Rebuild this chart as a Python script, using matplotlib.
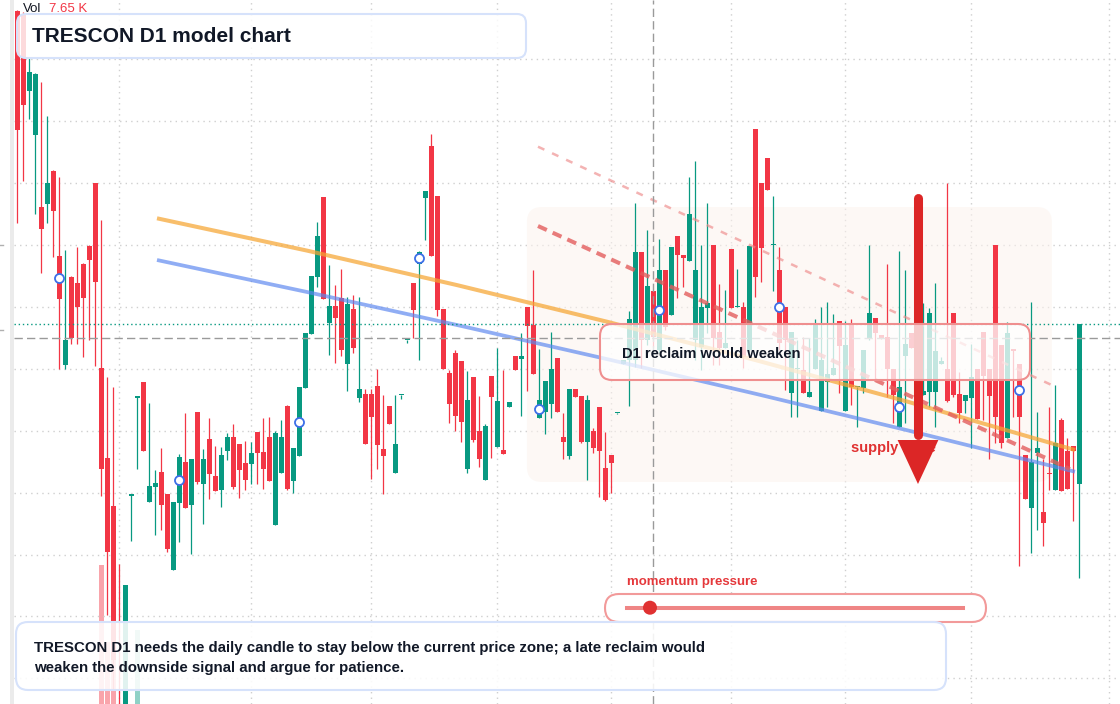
import numpy as np
import matplotlib
matplotlib.use('Agg')
import matplotlib.pyplot as plt
from matplotlib.patches import FancyBboxPatch, Polygon, Circle, Rectangle
from matplotlib.transforms import Affine2D
from matplotlib.lines import Line2D

W, H = 1120, 704
plt.rcParams['font.family'] = ['Liberation Sans', 'DejaVu Sans']

UP = '#089981'
DOWN = '#f23645'

# daily OHLC
opens = [
    68.90, 68.60, 60.93, 56.50, 49.30, 49.65, 52.90, 44.40, 33.54, 42.30,
    41.70, 43.60, 45.40, 51.70, 33.20, 24.20, 19.40, -1.20, -2.00, 20.45,
    30.25, 31.80, 19.83, 21.33, 22.80, 20.60, 13.00, 19.73, 23.80, 19.53,
    28.80, 21.63, 26.10, 22.40, 21.03, 24.93, 26.30, 25.60, 23.70, 23.63,
    26.80, 24.80, 26.30, 17.53, 22.73, 29.40, 21.93, 24.40, 31.23, 36.63,
    42.33, 50.30, 37.73, 39.40, 40.20, 33.63, 39.10, 30.23, 30.60, 30.60,
    31.40, 25.10, 29.40, 22.73, 30.47, 36.02, 41.70, 43.60, 50.23, 55.40,
    50.40, 39.10, 32.70, 34.70, 33.90, 23.13, 32.30, 26.90, 22.03, 32.40,
    25.33, 25.00, 29.33, 34.40, 34.13, 39.30, 37.50, 28.17, 28.83, 29.63,
    34.20, 26.33, 24.43, 31.10, 30.40, 25.83, 26.93, 29.30, 23.23, 24.53,
    28.70, 33.60, 34.00, 34.00, 44.80, 36.00, 40.90, 35.00, 43.00, 38.53,
    46.40, 44.50, 43.93, 36.00, 35.33, 39.23, 45.50, 36.80, 35.23, 45.10,
    39.27, 39.30, 35.00, 57.10, 51.70, 54.20, 45.47, 43.00, 39.30, 30.73,
    33.10, 33.00, 30.33, 33.07, 28.93, 31.83, 32.50, 37.90, 28.93, 37.67,
    31.30, 31.23, 36.13, 38.20, 36.50, 36.27, 33.07, 27.27, 34.43, 36.67,
    35.50, 30.50, 30.77, 30.83, 33.57, 33.07, 38.67, 30.60, 29.93, 30.23,
    33.10, 36.80, 33.10, 45.50, 35.50, 26.23, 35.07, 33.60, 24.47, 19.23,
    24.73, 18.80, 22.67, 21.00, 28.00, 24.93, 25.40, 21.57]
highs = [
    69.00, 68.80, 64.30, 62.70, 61.80, 58.40, 53.00, 52.30, 45.00, 42.40,
    45.35, 43.70, 45.50, 51.70, 48.00, 32.30, 31.30, 13.60, 11.54, 20.55,
    30.30, 31.80, 29.70, 23.00, 25.20, 20.60, 19.80, 24.60, 28.70, 24.10,
    28.80, 25.10, 28.20, 25.40, 25.30, 26.70, 27.60, 25.60, 25.90, 25.80,
    26.80, 28.20, 28.30, 26.90, 28.00, 29.50, 25.20, 31.30, 36.70, 42.40,
    47.80, 50.30, 43.50, 41.47, 43.10, 40.33, 40.50, 40.30, 31.10, 31.10,
    33.10, 30.50, 29.40, 30.50, 30.50, 36.03, 41.70, 44.90, 50.90, 56.60,
    50.40, 39.10, 33.03, 35.00, 33.90, 32.93, 32.30, 30.40, 27.60, 32.40,
    35.20, 33.03, 29.80, 34.40, 36.70, 39.30, 43.00, 35.10, 31.90, 36.80,
    34.20, 28.73, 31.10, 31.10, 30.40, 30.50, 27.23, 29.30, 26.83, 24.53,
    28.75, 34.00, 38.90, 49.70, 44.80, 47.00, 40.90, 46.10, 43.00, 45.30,
    46.40, 44.50, 52.33, 53.90, 45.50, 49.70, 45.50, 41.60, 41.00, 45.10,
    43.13, 39.80, 45.40, 57.10, 51.70, 54.20, 50.40, 45.30, 39.30, 36.80,
    36.00, 36.33, 36.20, 38.10, 39.33, 39.83, 38.60, 37.90, 37.90, 38.07,
    31.33, 35.00, 45.50, 38.20, 36.50, 43.60, 33.07, 44.90, 43.00, 36.67,
    37.00, 39.67, 39.17, 41.67, 34.33, 51.67, 38.67, 32.83, 30.50, 35.60,
    33.10, 36.80, 33.10, 45.50, 35.50, 37.80, 35.07, 33.60, 24.47, 39.80,
    28.80, 24.13, 29.27, 31.50, 28.23, 26.23, 25.40, 37.57]
lows = [
    47.70, 51.90, 58.10, 48.60, 42.70, 47.70, 44.30, 33.10, 33.10, 35.60,
    35.65, 34.30, 36.00, 33.40, 20.40, 8.50, 1.00, -5.00, -3.00, 15.90,
    23.10, 24.90, 19.80, 16.50, 17.00, 14.83, 13.00, 15.83, 19.20, 14.63,
    21.63, 17.60, 20.13, 20.90, 19.33, 24.00, 21.13, 20.23, 21.03, 21.63,
    21.63, 21.13, 21.93, 17.53, 22.73, 21.00, 20.73, 24.40, 31.20, 36.63,
    41.33, 40.13, 34.50, 33.67, 34.43, 30.93, 34.70, 29.83, 25.63, 22.13,
    23.13, 20.57, 27.60, 22.73, 30.10, 35.67, 36.17, 34.00, 46.00, 44.40,
    38.40, 33.13, 27.70, 26.93, 25.83, 22.73, 25.83, 23.33, 22.03, 24.23,
    25.33, 24.63, 29.33, 33.03, 28.43, 30.93, 32.63, 28.17, 26.63, 28.23,
    28.83, 24.13, 24.07, 30.33, 25.73, 22.03, 24.73, 20.33, 19.93, 20.73,
    28.65, 33.60, 29.43, 33.33, 33.20, 35.50, 35.33, 34.80, 37.00, 38.53,
    40.17, 41.33, 43.93, 34.00, 33.00, 36.70, 33.50, 33.50, 35.23, 39.23,
    39.27, 33.20, 34.80, 40.33, 41.83, 51.00, 40.93, 35.00, 31.00, 28.33,
    28.30, 30.73, 30.33, 33.07, 28.93, 29.33, 32.50, 30.67, 28.93, 29.50,
    27.33, 30.67, 36.00, 32.00, 36.13, 30.33, 27.67, 27.27, 27.67, 35.23,
    31.50, 30.50, 29.33, 27.33, 33.57, 29.83, 30.33, 27.67, 28.73, 25.23,
    28.10, 28.00, 24.07, 25.73, 25.17, 26.23, 28.33, 13.43, 20.10, 14.67,
    17.00, 15.43, 21.00, 21.00, 20.93, 21.07, 17.93, 12.17]
closes = [
    57.00, 59.55, 62.80, 62.60, 47.10, 51.70, 48.90, 40.10, 36.00, 36.20,
    39.33, 40.23, 44.00, 41.83, 23.15, 14.85, 4.00, -4.00, 11.54, 20.50,
    30.30, 24.93, 21.40, 21.70, 19.53, 15.10, 19.80, 24.30, 19.23, 24.10,
    21.83, 24.10, 22.63, 20.93, 24.50, 26.30, 21.33, 23.03, 22.03, 24.70,
    24.73, 23.13, 21.93, 26.70, 26.30, 21.07, 25.20, 31.30, 36.70, 42.40,
    46.40, 40.13, 39.40, 38.23, 35.00, 39.60, 35.23, 31.10, 25.63, 28.33,
    25.53, 24.43, 27.63, 25.60, 30.50, 36.03, 39.03, 44.80, 50.90, 44.40,
    39.00, 33.13, 29.60, 28.43, 27.83, 30.00, 26.03, 24.13, 27.40, 30.33,
    29.90, 24.63, 29.80, 33.03, 34.40, 37.43, 32.63, 30.00, 31.90, 33.10,
    28.83, 25.83, 31.10, 30.33, 25.83, 30.00, 25.23, 24.93, 20.03, 23.73,
    28.70, 34.00, 38.10, 44.80, 36.00, 41.40, 36.33, 43.00, 37.33, 45.30,
    44.50, 44.23, 48.60, 43.00, 39.30, 39.70, 36.17, 35.23, 35.73, 39.23,
    39.30, 34.33, 45.40, 42.33, 45.20, 51.00, 45.50, 35.70, 36.00, 36.80,
    33.20, 30.73, 30.83, 37.53, 34.00, 32.60, 33.23, 35.43, 35.50, 31.33,
    31.33, 35.00, 38.67, 36.73, 36.13, 33.07, 30.53, 31.27, 35.60, 35.23,
    32.80, 30.93, 38.70, 34.90, 33.90, 29.93, 30.50, 28.73, 30.50, 32.27,
    28.10, 32.43, 30.43, 28.33, 25.67, 36.70, 34.95, 28.33, 20.10, 23.80,
    25.23, 17.73, 22.57, 25.67, 20.93, 21.07, 24.93, 37.57]
# volume in K
volumes = [
    6.1, 5.4, 3.9, 4.6, 5.2, 3.3, 4.0, 6.8, 4.4, 3.1, 2.9, 3.6, 3.2, 5.0,
    994, 450, 520, 6.0, 163, 12, 535,
    4.2, 3.8, 2.6, 3.1, 4.9, 5.5, 3.4, 2.8, 4.1, 3.0,
    2.7, 3.5, 2.2, 3.9, 2.4, 2.9, 2.1, 2.6, 2.3, 3.2,
    2.5, 2.8, 4.4, 3.1, 3.6, 2.9, 4.0, 4.7, 5.3, 5.8,
    6.2, 3.9, 3.3, 3.7, 3.0, 2.8, 3.4, 3.9, 2.7, 3.5,
    2.6, 2.2, 2.9, 1.8, 1.6, 3.0, 3.8, 4.5, 6.4, 5.6,
    4.3, 3.6, 3.2, 2.9, 3.5, 2.8, 2.6, 3.1, 2.7, 3.3,
    2.4, 1.9, 2.1, 2.6, 2.8, 3.4, 2.5, 2.3, 2.9, 2.6,
    2.2, 2.7, 1.8, 2.4, 2.9, 2.0, 2.6, 2.8, 2.3, 1.5,
    1.9, 2.7, 4.8, 3.9, 3.5, 2.6, 3.7, 2.9, 3.1, 2.8,
    2.2, 3.6, 4.2, 3.3, 2.9, 3.4, 2.5, 2.1, 3.2, 1.7,
    2.6, 3.3, 5.9, 4.6, 3.8, 2.7, 3.5, 2.9, 3.2, 2.4,
    2.5, 2.0, 2.8, 3.1, 2.6, 2.2, 2.7, 3.0, 2.9, 1.9,
    2.4, 3.2, 2.5, 1.8, 3.4, 2.6, 3.3, 2.9, 1.9, 2.8,
    2.6, 3.1, 3.4, 1.7, 4.1, 3.0, 2.5, 2.1, 3.2, 2.7,
    2.9, 3.3, 4.4, 3.6, 3.8, 2.4, 4.0, 3.2, 4.5, 3.7,
    3.1, 2.6, 3.4, 3.9, 3.0, 2.8, 7.65]

grid_prices = [64.07, 57.88, 51.69, 45.50, 39.31, 33.12, 26.93, 20.74, 14.55, 8.36, 2.17]
grid_days = [17, 39, 59, 80, 99, 119, 138, 159, 182]

orange_days = [23.25, 48.25, 73.25, 98.25, 123.25, 148.25, 176.25]
orange_prices = [48.17, 44.94, 41.49, 37.83, 33.95, 29.85, 25.00]
blue_days = [23.25, 48.25, 73.25, 98.25, 123.25, 148.25, 176.25]
blue_prices = [44.00, 40.80, 37.50, 34.09, 30.59, 26.98, 22.83]
light_dash_days = [86.75, 172.6]
light_dash_prices = [55.33, 31.43]
dark_dash_days = [86.75, 175.4]
dark_dash_prices = [47.40, 23.10]
zone_days = [84.9, 172.4]
zone_prices = [21.8, 49.3]
arrow_day = 150.08
arrow_top, arrow_base, arrow_tip = 50.2, 26.0, 21.6
cross_day, cross_price = 106.0, 36.17
label_day, label_price = 138.9, 25.2

days = np.arange(len(opens))
o = np.array(opens); c = np.array(closes)
hi = np.array(highs); lo = np.array(lows)
up = c >= o
colors = np.where(up, UP, DOWN)

fig = plt.figure(figsize=(W / 100, H / 100), dpi=100)
fig.patch.set_facecolor('white')
ax = fig.add_axes([14 / W, 0, (W - 14) / W, 1])
ax2 = ax.twinx()
ax.set_zorder(2)
ax.patch.set_visible(False)
ax2.set_zorder(1)

ax.set_xlim(-0.583, 183.75)
ax.set_ylim(-0.4, 70)
# volume baseline sits just under the bottom edge, so the quiet days vanish
ax2.set_ylim(10, 5000)
for a in (ax, ax2):
    for s in a.spines.values():
        s.set_visible(False)
    a.tick_params(length=0, labelbottom=False, labelleft=False, labelright=False)
ax2.set_yticks([])
ax.set_xticks(grid_days)
ax.set_yticks(grid_prices)
ax.grid(True, color='#cfcfcf', linestyle=(0, (1, 3)), linewidth=1.0, zorder=0)
ax.set_axisbelow(True)

# volume
ax2.bar(days, volumes, width=0.83, color=colors, alpha=0.45, linewidth=0)

# zone
zone = FancyBboxPatch((zone_days[0], zone_prices[0]), zone_days[1] - zone_days[0],
                      zone_prices[1] - zone_prices[0],
                      boxstyle='round,pad=0,rounding_size=2.5', mutation_aspect=0.6,
                      facecolor='#fcf3ee', alpha=0.55, edgecolor='none', zorder=1)
ax.add_patch(zone)

# candles
ax.vlines(days, lo, hi, colors=colors, linewidth=0.9, zorder=3)
body_lo = np.minimum(o, c)
body_h = np.maximum(np.abs(c - o), 0.12)
ax.bar(days, body_h, bottom=body_lo, width=0.83, color=colors, linewidth=0, zorder=3.1)

# guides
ax.plot(orange_days, orange_prices, color='#f6a532', alpha=0.72, lw=2.9,
        solid_capstyle='butt', zorder=4)
ax.plot(blue_days, blue_prices, color='#5b87f0', alpha=0.68, lw=2.7,
        solid_capstyle='butt', zorder=4)
ax.plot(light_dash_days, light_dash_prices, color='#ee8a8a', alpha=0.65, lw=1.8,
        dashes=(2.8, 3.4), zorder=4)
ax.plot(dark_dash_days, dark_dash_prices, color='#e35d5d', alpha=0.8, lw=2.9,
        dashes=(2.4, 1.6), zorder=4)

ax.axhline(cross_price, color='#9a9a9a', lw=1.0, dashes=(6, 3), zorder=4.5)
ax.axvline(cross_day, color='#9a9a9a', lw=1.0, dashes=(6, 3), zorder=4.5)
ax.axhline(closes[-1], color=UP, lw=1.0, linestyle=(0, (1, 2)), zorder=4.5)

# markers on every 20th body midpoint
mk = days[7::20]
ax.plot(mk, (o[mk] + c[mk]) / 2, 'o', ms=6.5, mfc='white', mec='#3d6fe8', mew=1.3, zorder=5)

ax.text(label_day, label_price, 'supply zone', color='#e03131', fontsize=10.5,
        fontweight='bold', va='center', ha='left', zorder=6)

# arrow
ax.plot([arrow_day, arrow_day], [arrow_top, arrow_base + 0.5], color='#dc2626', lw=6.5,
        solid_capstyle='round', zorder=7)
ax.add_patch(Polygon([(arrow_day - 3.4, arrow_base), (arrow_day + 3.4, arrow_base),
                      (arrow_day, arrow_tip)], closed=True, facecolor='#dc2626',
                     edgecolor='none', zorder=7))

# overlay panels in pixel space
px = Affine2D().scale(1, -1).translate(0, H)


def panel(x, y, w, h, r, ec, alpha=1.0, lw=1.5):
    p = FancyBboxPatch((x, y), w, h, boxstyle='round,pad=0,rounding_size=%g' % r,
                       facecolor=(1, 1, 1, alpha), edgecolor=ec, linewidth=lw,
                       transform=px, zorder=10)
    fig.add_artist(p)


fig.add_artist(Rectangle((10, 0), 4, H, facecolor='#ebebeb', edgecolor='none',
                         transform=px, zorder=9))
for yy in (245, 330):
    fig.add_artist(Line2D([0, 3], [yy, yy], color='#b0b0b0', lw=1, transform=px, zorder=9))

panel(17, 14, 509, 44, 9, '#d6e2fb', alpha=0.82)
fig.text(32, 36, 'TRESCON D1 model chart', transform=px, fontsize=15,
         fontweight='bold', color='#111827', va='center', zorder=11)
fig.text(23, 8.5, 'Vol', transform=px, fontsize=9.5, color='#131722', va='center', zorder=11)
fig.text(49, 8.5, '7.65 K', transform=px, fontsize=9.5, color='#f23645', va='center', zorder=11)

panel(600, 324, 430, 56, 12, '#ef8f8f', alpha=0.76)
fig.text(622, 353.5, 'D1 reclaim would weaken', transform=px, fontsize=10.6,
         fontweight='bold', color='#111827', va='center', zorder=11)

fig.text(627, 582.5, 'momentum pressure', transform=px, fontsize=9.5,
         fontweight='bold', color='#e5383b', va='center', zorder=11)
panel(605, 594, 381, 28, 14, '#f29a9a', alpha=1.0)
fig.add_artist(Line2D([627, 963], [607.7, 607.7], color='#ef8585', lw=2.9,
                      transform=px, zorder=11))
fig.add_artist(Circle((650, 607.7), 7, facecolor='#e03131', edgecolor='none',
                      transform=px, zorder=12))

panel(16, 622, 930, 68, 12, '#d6e2fb', alpha=0.88)
fig.text(34, 648, 'TRESCON D1 needs the daily candle to stay below the current price zone; a late reclaim would',
         transform=px, fontsize=10.85, fontweight='bold', color='#111827', va='center', zorder=11)
fig.text(34, 668, 'weaken the downside signal and argue for patience.',
         transform=px, fontsize=10.85, fontweight='bold', color='#111827', va='center', zorder=11)

fig.savefig('out.png', dpi=100, facecolor='white')
